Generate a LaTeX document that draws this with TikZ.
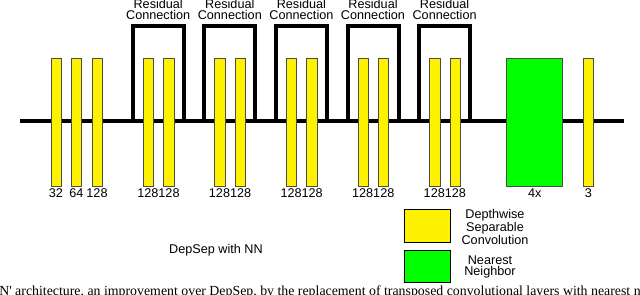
\documentclass[tikz,border=0pt]{standalone}
\usepackage{fontspec}
\setmainfont{Liberation Sans}
\newfontfamily\capfont{Liberation Serif}
\begin{document}
\begin{tikzpicture}[x=0.025cm, y=-0.025cm,
    conv/.style={draw=black!70, line width=0.4pt, fill=yellow, minimum width=0.26cm, minimum height=3.2cm, inner sep=0pt},
    nearest/.style={draw=black!70, line width=0.4pt, fill=green, minimum width=1.4cm, minimum height=3.2cm, inner sep=0pt},
    legbox/.style={draw=black, line width=0.6pt, minimum width=1.15cm, minimum height=0.82cm, inner sep=0pt},
    wire/.style={line width=0.1cm},
    lbl/.style={font=\fontsize{9}{7.8}\selectfont, align=center, inner sep=0pt}]
    \useasboundingbox (0,0) rectangle (640,295);
    \clip (0,0) rectangle (640,295);

    % Main path
    \coordinate (in) at (20,121);
    \coordinate (out) at (624,121);
    \draw[wire] (in) -- (out);

    % Input convolutions
    \node[conv] (c1) at (56,122) {};
    \node[conv] (c2) at (76.5,122) {};
    \node[conv] (c3) at (97,122) {};
    \node[lbl] (n1) at (56,193) {32};
    \node[lbl] (n2) at (76.5,193) {64};
    \node[lbl] (n3) at (97,193) {128};

    % Residual blocks
    \foreach \i in {0,...,4} {
        \pgfmathsetmacro{\xs}{132.7+71.6*\i}
        \coordinate (ra\i) at (\xs,121);
        \coordinate (rb\i) at (\xs+51,121);
        \draw[wire] (ra\i) -- ++(0,-95) -| (rb\i);
        \node[lbl] (res\i) at (\xs+25.5,9.5) {Residual\\Connection};
        \node[conv] (ca\i) at (\xs+15.5,122) {};
        \node[conv] (cb\i) at (\xs+36,122) {};
        \node[lbl] (nb\i) at (\xs+25.75,193) {128128};
    }

    % Upsampling and output
    \node[nearest] (nn) at (534.7,122) {};
    \node[lbl] (nnlbl) at (534.7,193) {4x};
    \node[conv] (cout) at (588.5,122) {};
    \node[lbl] (noutlbl) at (588.5,193) {3};

    % Legend
    \node[legbox, fill=yellow] (legconv) at (427,226.3) {};
    \node[lbl] (legconvlbl) at (495,227) {Depthwise\\Separable\\Convolution};
    \node[legbox, fill=green] (legnn) at (427,266.5) {};
    \node[lbl] (legnnlbl) at (490,266.7) {Nearest\\Neighbor};

    \node[lbl] (title) at (216,250.7) {DepSep with NN};

    % Caption line
    \node[anchor=base west, inner sep=0pt, font=\capfont\fontsize{9.85}{12}\selectfont] (cap) at (-1,295)
        {N' architecture, an improvement over DepSep, by the replacement of transposed convolutional layers with nearest neighbor};
\end{tikzpicture}
\end{document}
